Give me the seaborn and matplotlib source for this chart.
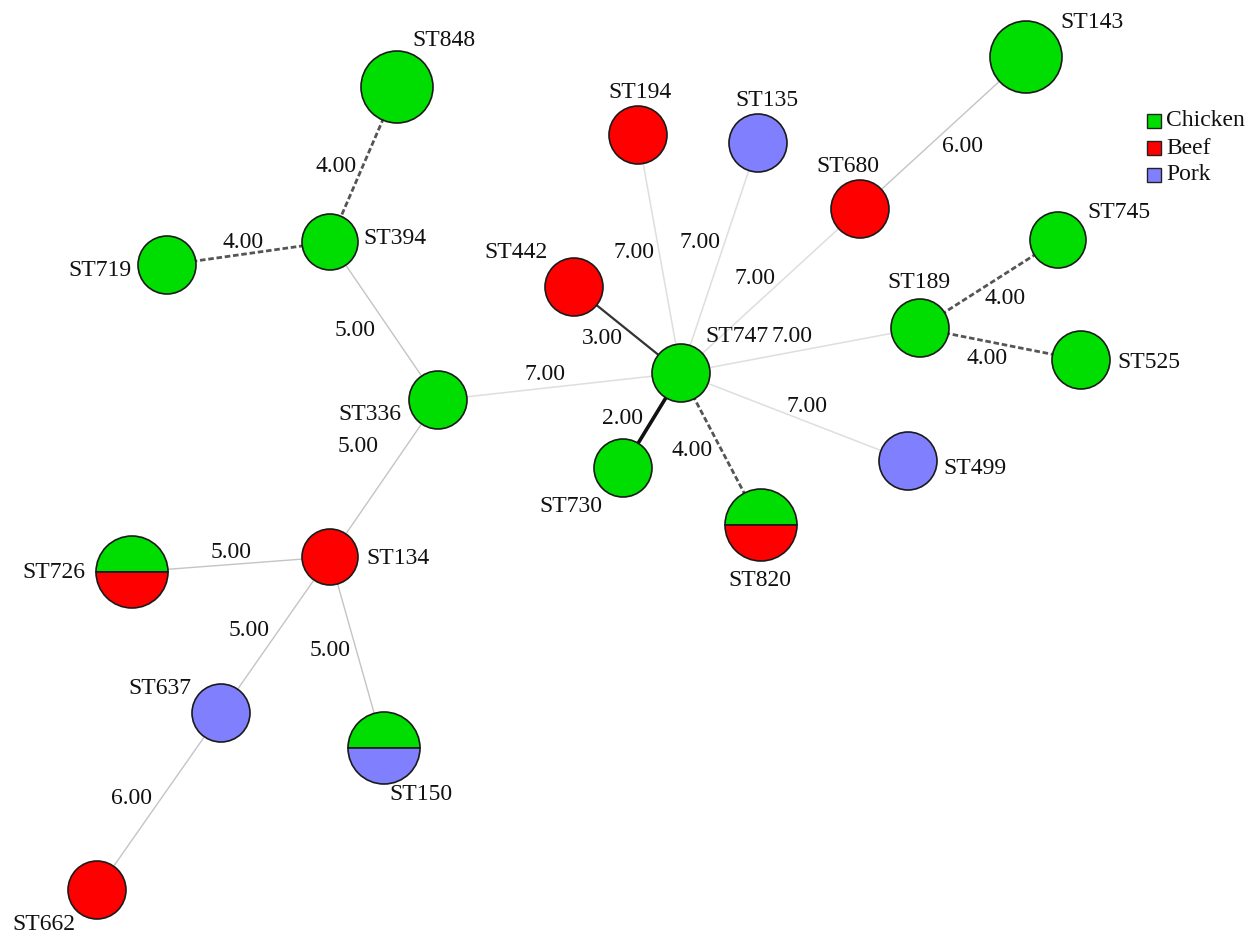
import matplotlib
matplotlib.use("Agg")
import matplotlib.pyplot as plt
from matplotlib.patches import Circle, Wedge, Rectangle
import seaborn as sns

sns.set_theme(style="white")
plt.rcParams["font.family"] = ["Liberation Serif", "DejaVu Serif"]

# ---- data ----
node_names = ["ST848", "ST394", "ST719", "ST336", "ST134", "ST726", "ST637", "ST150",
              "ST662", "ST747", "ST442", "ST194", "ST135", "ST680", "ST143", "ST189",
              "ST745", "ST525", "ST499", "ST730", "ST820"]
node_x = [397, 330, 167, 438, 330, 132, 221, 384, 97, 681, 574, 638, 758, 860, 1026,
          920, 1058, 1081, 908, 623, 761]
node_y = [87, 242, 265, 400, 557, 572, 713, 748, 890, 373, 287, 135, 143, 209, 57,
          328, 240, 360, 461, 468, 525]
node_r = [36, 28, 29, 29, 28, 36, 29, 36, 29, 29, 29, 29, 29, 29, 36,
          29, 28, 29, 29, 29, 36]
node_top = ["Chicken", "Chicken", "Chicken", "Chicken", "Beef", "Chicken", "Pork", "Chicken",
            "Beef", "Chicken", "Beef", "Beef", "Pork", "Beef", "Chicken", "Chicken",
            "Chicken", "Chicken", "Pork", "Chicken", "Chicken"]
node_bottom = ["Chicken", "Chicken", "Chicken", "Chicken", "Beef", "Beef", "Pork", "Pork",
               "Beef", "Chicken", "Beef", "Beef", "Pork", "Beef", "Chicken", "Chicken",
               "Chicken", "Chicken", "Pork", "Chicken", "Beef"]
label_x = [412, 363, 132, 401, 366, 85, 191, 389, 12, 705, 548, 608, 735, 816, 1060,
           887, 1087, 1117, 943, 602, 728]
label_y = [41, 239, 270, 414, 559, 572, 688, 795, 924, 337, 252, 93, 101, 167, 23,
           283, 212, 363, 468, 507, 580]
label_ha = ["left", "left", "right", "right", "left", "right", "right", "left", "left",
            "left", "right", "left", "left", "left", "left", "left", "left", "left",
            "left", "right", "left"]

edge_src = ["ST848", "ST719", "ST394", "ST336", "ST336", "ST134", "ST134", "ST134",
            "ST637", "ST747", "ST747", "ST747", "ST747", "ST747", "ST747", "ST680",
            "ST747", "ST189", "ST189", "ST747"]
edge_dst = ["ST394", "ST394", "ST336", "ST747", "ST134", "ST726", "ST637", "ST150",
            "ST662", "ST442", "ST730", "ST820", "ST194", "ST135", "ST680", "ST143",
            "ST189", "ST745", "ST525", "ST499"]
edge_w = [4.00, 4.00, 5.00, 7.00, 5.00, 5.00, 5.00, 5.00, 6.00, 3.00, 2.00, 4.00,
          7.00, 7.00, 7.00, 6.00, 7.00, 4.00, 4.00, 7.00]
edge_lx = [336, 243, 355, 545, 358, 231, 249, 330, 132, 602, 623, 692, 634, 700,
           755, 963, 792, 1005, 987, 807]
edge_ly = [167, 243, 330, 375, 446, 552, 630, 650, 799, 338, 419, 450, 253, 243,
           278, 147, 337, 298, 359, 407]

categories = ["Chicken", "Beef", "Pork"]
colors = {"Chicken": "#00DD00", "Beef": "#FF0000", "Pork": "#8080FF"}

# ---- figure ----
fig = plt.figure(figsize=(12.49, 9.35), dpi=100)
ax = fig.add_axes([0, 0, 1, 1])
ax.set_xlim(0, 1249)
ax.set_ylim(935, 0)
ax.axis("off")

pos = {n: (x, y) for n, x, y in zip(node_names, node_x, node_y)}
FS = 17


def edge_style(w):
    if w <= 2:
        return dict(color="#111111", lw=2.6, ls="-")
    if w <= 3:
        return dict(color="#333333", lw=1.6, ls="-")
    if w <= 4:
        return dict(color="#555555", lw=2.0, ls=(0, (2.0, 1.0)))
    if w <= 6:
        return dict(color="#C4C4C4", lw=1.0, ls="-")
    return dict(color="#DEDEDE", lw=1.1, ls="-")


for s, d, w, lx, ly in zip(edge_src, edge_dst, edge_w, edge_lx, edge_ly):
    (x1, y1), (x2, y2) = pos[s], pos[d]
    ax.plot([x1, x2], [y1, y2], zorder=1, **edge_style(w))
    ax.text(lx, ly, f"{w:.2f}", ha="center", va="center", fontsize=FS,
            color="#111111", zorder=4)

for n, x, y, r, t, b, tx, ty, ha in zip(node_names, node_x, node_y, node_r, node_top,
                                         node_bottom, label_x, label_y, label_ha):
    if t == b:
        ax.add_patch(Circle((x, y), r, facecolor=colors[t], edgecolor="#1a1a1a",
                            lw=1.2, zorder=3))
    else:
        # y axis is inverted: angles 180-360 are on top in display
        ax.add_patch(Wedge((x, y), r, 180, 360, facecolor=colors[t],
                           edgecolor="#1a1a1a", lw=1.2, zorder=3))
        ax.add_patch(Wedge((x, y), r, 0, 180, facecolor=colors[b],
                           edgecolor="#1a1a1a", lw=1.2, zorder=3))
    ax.text(tx, ty, n, ha=ha, va="center", fontsize=FS, color="#111111", zorder=4)

# legend
for i, c in enumerate(categories):
    yy = 121 + i * 27
    ax.add_patch(Rectangle((1147, yy - 7), 14, 14, facecolor=colors[c],
                           edgecolor="#222222", lw=1.0, zorder=5))
    ax.text(1166, yy, c, ha="left", va="center", fontsize=FS, color="#111111",
            zorder=5)

fig.savefig("out.png", dpi=100, facecolor="white")
